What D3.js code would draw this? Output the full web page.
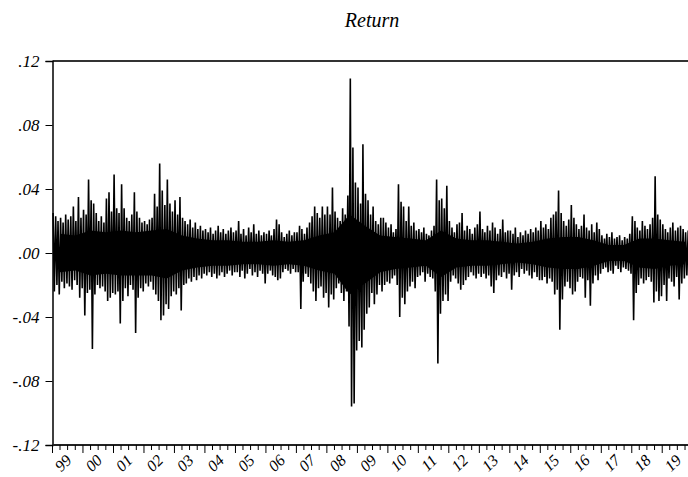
<!DOCTYPE html>
<html>
<head>
<meta charset="utf-8">
<script src="https://cdn.jsdelivr.net/npm/d3@7"></script>
<style>
  body { margin: 0; background: #fff; }
  svg text { font-family: "Liberation Serif", serif; font-style: italic; }
</style>
</head>
<body>
<div id="chart"></div>
<script>
// year labels on the x axis (1999 .. 2019)
var yearLabels = ["99","00","01","02","03","04","05","06","07","08","09",
                  "10","11","12","13","14","15","16","17","18","19"];
var firstYear = 1999;

// y axis ticks (percent) and their labels
var yTicks = [-12, -8, -4, 0, 4, 8, 12];
var yTickLabels = ["-.12", "-.08", "-.04", ".00", ".04", ".08", ".12"];

// monthly highest daily return (percent), one row per year
var monthHigh = [
  2.5, 2.3, 2.0, 2.2, 1.9, 2.4, 2.1, 2.3, 2.9, 2.0, 3.5, 2.2,   // 1999
  2.7, 2.4, 4.6, 3.3, 3.1, 2.5, 2.0, 2.3, 1.9, 3.4, 3.8, 2.6,   // 2000
  4.9, 2.8, 2.5, 4.3, 2.8, 2.2, 2.0, 2.4, 3.8, 2.6, 2.2, 1.9,   // 2001
  2.0, 1.8, 2.1, 2.2, 3.7, 2.9, 5.6, 3.9, 3.0, 4.6, 3.1, 2.6,   // 2002
  3.3, 2.4, 3.5, 2.2, 2.0, 1.8, 2.1, 1.6, 1.9, 1.5, 1.7, 1.4,   // 2003
  1.5, 1.3, 1.6, 1.2, 1.4, 1.7, 1.3, 1.5, 1.2, 1.4, 1.6, 1.3,   // 2004
  1.4, 2.0, 1.2, 1.5, 1.1, 1.6, 1.3, 1.8, 1.2, 1.4, 1.1, 1.3,   // 2005
  1.2, 1.4, 1.1, 1.5, 2.1, 1.8, 1.3, 1.0, 1.2, 1.4, 1.1, 1.3,   // 2006
  1.3, 1.7, 1.5, 1.2, 1.6, 1.9, 2.3, 2.9, 2.5, 2.2, 2.9, 2.4,   // 2007
  2.9, 2.4, 4.1, 2.6, 2.2, 2.0, 2.8, 2.4, 3.6, 10.9, 6.6, 4.4,  // 2008
  4.1, 3.1, 6.8, 3.7, 3.3, 2.4, 2.9, 2.0, 1.8, 2.2, 2.2, 1.9,   // 2009
  1.6, 1.8, 1.3, 1.5, 4.3, 3.2, 2.9, 2.0, 2.9, 1.7, 1.9, 1.4,   // 2010
  1.5, 1.3, 1.6, 1.2, 1.1, 1.4, 1.7, 4.6, 3.3, 3.4, 2.8, 4.2,   // 2011
  2.0, 1.6, 1.3, 1.8, 1.9, 2.5, 1.4, 1.7, 1.5, 1.2, 1.6, 1.8,   // 2012
  2.6, 1.5, 1.3, 1.7, 1.4, 1.9, 1.6, 1.2, 1.5, 2.1, 1.3, 1.4,   // 2013
  1.4, 1.2, 1.6, 1.0, 1.3, 1.1, 1.4, 1.2, 1.5, 1.3, 1.6, 1.4,   // 2014
  2.0, 1.6, 1.8, 1.5, 2.2, 2.4, 2.6, 3.9, 2.5, 2.0, 1.7, 2.1,   // 2015
  3.0, 2.2, 1.8, 1.5, 1.7, 2.4, 1.6, 1.4, 1.8, 1.3, 1.9, 1.5,   // 2016
  1.1, 0.9, 1.2, 1.0, 1.3, 0.9, 1.0, 1.1, 0.8, 1.0, 0.9, 1.2,   // 2017
  2.3, 2.0, 1.6, 1.4, 2.0, 1.7, 1.5, 1.8, 2.2, 4.8, 2.4, 2.1,   // 2018
  1.8, 1.5, 1.3, 1.6, 1.9, 1.4, 1.6, 1.7, 1.5, 1.3, 1.4, 1.2    // 2019
];

// monthly lowest daily return (percent)
var monthLow = [
  -2.4, -2.0, -2.6, -1.8, -2.2, -1.9, -2.1, -2.3, -1.7, -2.0, -2.8, -2.2,   // 1999
  -3.9, -2.5, -2.3, -6.0, -2.6, -2.0, -2.2, -2.1, -2.4, -3.0, -2.8, -2.5,   // 2000
  -2.6, -2.4, -4.4, -3.0, -2.2, -2.7, -2.0, -2.3, -5.0, -2.8, -2.2, -2.4,   // 2001
  -1.9, -2.1, -1.8, -2.3, -2.6, -3.0, -4.2, -3.9, -3.2, -3.5, -2.7, -2.4,   // 2002
  -2.6, -2.2, -3.6, -2.0, -1.9, -1.6, -1.8, -1.5, -1.7, -1.4, -1.6, -1.3,   // 2003
  -1.4, -1.2, -1.5, -1.3, -1.6, -1.4, -1.2, -1.5, -1.3, -1.1, -1.4, -1.2,   // 2004
  -1.2, -1.5, -1.1, -1.6, -1.3, -1.0, -1.4, -1.2, -1.5, -1.1, -1.3, -1.9,   // 2005
  -1.3, -1.1, -1.4, -1.5, -1.7, -1.6, -1.2, -1.0, -1.1, -1.3, -1.0, -1.2,   // 2006
  -1.2, -3.5, -1.8, -1.3, -1.5, -1.9, -2.4, -3.0, -2.2, -2.1, -2.8, -2.5,   // 2007
  -3.4, -2.6, -2.9, -2.2, -1.9, -2.5, -3.0, -2.4, -4.6, -9.6, -9.4, -6.1,   // 2008
  -5.5, -5.9, -4.8, -3.8, -3.4, -2.5, -3.2, -2.6, -2.0, -2.4, -2.0, -1.8,   // 2009
  -1.9, -1.6, -1.4, -2.0, -4.0, -2.8, -3.2, -2.4, -2.1, -1.8, -2.2, -1.5,   // 2010
  -1.4, -1.2, -1.8, -1.3, -1.5, -1.6, -2.4, -6.9, -3.8, -3.0, -2.6, -3.0,   // 2011
  -1.8, -1.4, -1.6, -1.9, -2.3, -2.0, -1.7, -1.5, -1.2, -1.4, -1.6, -1.3,   // 2012
  -1.5, -1.3, -1.6, -1.4, -2.1, -2.5, -1.7, -1.4, -1.5, -1.2, -1.6, -1.3,   // 2013
  -2.3, -1.4, -1.2, -1.5, -1.0, -1.3, -1.1, -1.4, -1.6, -1.2, -1.5, -1.7,   // 2014
  -1.7, -1.5, -1.9, -1.6, -1.8, -2.6, -2.3, -4.8, -2.9, -2.1, -1.8, -2.2,   // 2015
  -2.6, -2.4, -1.8, -1.5, -1.6, -2.8, -1.7, -3.3, -1.9, -1.4, -1.7, -1.3,   // 2016
  -1.0, -0.9, -1.2, -1.1, -1.3, -0.8, -1.0, -1.2, -0.9, -1.0, -1.1, -1.3,   // 2017
  -4.2, -2.5, -2.0, -1.6, -1.9, -1.7, -1.5, -1.8, -3.1, -2.4, -3.0, -2.7,   // 2018
  -2.0, -3.0, -1.6, -1.8, -2.1, -1.5, -2.9, -1.9, -1.6, -1.4, -1.5, -1.3    // 2019
];

// the solid black core where the daily line overlaps itself, per half year (percent)
var coreHigh = [
  1.2, 1.1,  1.4, 1.3,  1.4, 1.3,  1.4, 1.5,  1.1, 0.9,  0.8, 0.8,  0.7, 0.7,
  0.8, 0.7,  0.8, 1.1,  1.3, 2.4,  1.7, 1.1,  1.0, 0.9,  0.8, 1.4,  0.9, 0.8,
  0.8, 0.7,  0.6, 0.7,  0.9, 1.0,  1.0, 0.8,  0.5, 0.5,  0.9, 0.9,  0.8, 0.7
];
var coreLow = [
  -1.2, -1.1,  -1.4, -1.3,  -1.4, -1.4,  -1.4, -1.6,  -1.1, -0.9,  -0.8, -0.8,  -0.7, -0.7,
  -0.8, -0.7,  -0.8, -1.1,  -1.3, -2.6,  -1.9, -1.2,  -1.0, -0.9,  -0.8, -1.5,  -0.9, -0.8,
  -0.8, -0.7,  -0.6, -0.7,  -0.9, -1.0,  -1.0, -0.8,  -0.5, -0.5,  -0.9, -1.0,  -0.8, -0.7
];

var W = 688, H = 477;
var plot = {left: 52.5, top: 61, bottom: 445, right: 692.7};

var svg = d3.select("#chart").append("svg")
    .attr("width", W)
    .attr("height", H);

var x = d3.scaleTime()
    .domain([new Date(firstYear, 0, 1), new Date(firstYear + yearLabels.length, 0, 1)])
    .range([plot.left, plot.right]);

var y = d3.scaleLinear()
    .domain([-12, 12])
    .range([plot.bottom, plot.top]);

// dense core
var core = coreHigh.map(function(v, i) {
  return {date: new Date(firstYear, i * 6 + 3, 1), hi: v, lo: coreLow[i]};
});
svg.append("path")
    .datum(core)
    .attr("d", d3.area()
      .x(function(d) { return x(d.date); })
      .y0(function(d) { return y(d.lo); })
      .y1(function(d) { return y(d.hi); }))
    .attr("fill", "#000");

// one high and one low point per month, the line runs through them in order
var pts = [];
monthHigh.forEach(function(v, i) {
  pts.push({date: new Date(firstYear, i, 8), value: v});
  pts.push({date: new Date(firstYear, i, 23), value: monthLow[i]});
});

var line = d3.line()
    .x(function(d) { return x(d.date); })
    .y(function(d) { return y(d.value); });

svg.append("path")
    .datum(pts)
    .attr("d", line)
    .attr("fill", "none")
    .attr("stroke", "#000")
    .attr("stroke-width", 1.6);

// frame: top line and left axis
svg.append("line")
    .attr("x1", plot.left).attr("x2", W)
    .attr("y1", plot.top).attr("y2", plot.top)
    .attr("stroke", "#333").attr("stroke-width", 2);

var yAxis = svg.append("g")
    .attr("transform", "translate(" + plot.left + ",0)")
    .call(d3.axisLeft(y).tickValues(yTicks).tickSize(7).tickPadding(6)
      .tickFormat(function(d, i) { return yTickLabels[i]; }));
yAxis.attr("font-family", null).attr("font-size", null);
yAxis.select(".domain").attr("stroke", "#000").attr("stroke-width", 1.5);
yAxis.selectAll("text")
    .style("font-size", "17px")
    .attr("fill", "#000");

// bottom axis: quarter ticks, longer tick at each year
var quarters = d3.timeMonth.every(3).range(x.domain()[0], x.domain()[1]);
var xAxis = svg.append("g").attr("transform", "translate(0," + plot.bottom + ")");
xAxis.append("line")
    .attr("x1", plot.left).attr("x2", W)
    .attr("stroke", "#222").attr("stroke-width", 2);
xAxis.selectAll(".qt")
    .data(quarters)
    .enter().append("line")
    .attr("x1", function(d) { return x(d); })
    .attr("x2", function(d) { return x(d); })
    .attr("y1", 0)
    .attr("y2", function(d) { return d.getMonth() === 0 ? 8 : 5; })
    .attr("stroke", "#000").attr("stroke-width", 1);

xAxis.selectAll(".yl")
    .data(yearLabels)
    .enter().append("text")
    .attr("transform", function(d, i) {
      var cx = x(new Date(firstYear + i, 6, 1)) - 4.5;
      return "translate(" + cx + ",18) rotate(-45)";
    })
    .attr("text-anchor", "middle")
    .attr("dominant-baseline", "central")
    .style("font-size", "16px")
    .text(function(d) { return d; });

svg.append("text")
    .attr("x", 372)
    .attr("y", 27)
    .attr("text-anchor", "middle")
    .style("font-size", "20px")
    .text("Return");
</script>
</body>
</html>
